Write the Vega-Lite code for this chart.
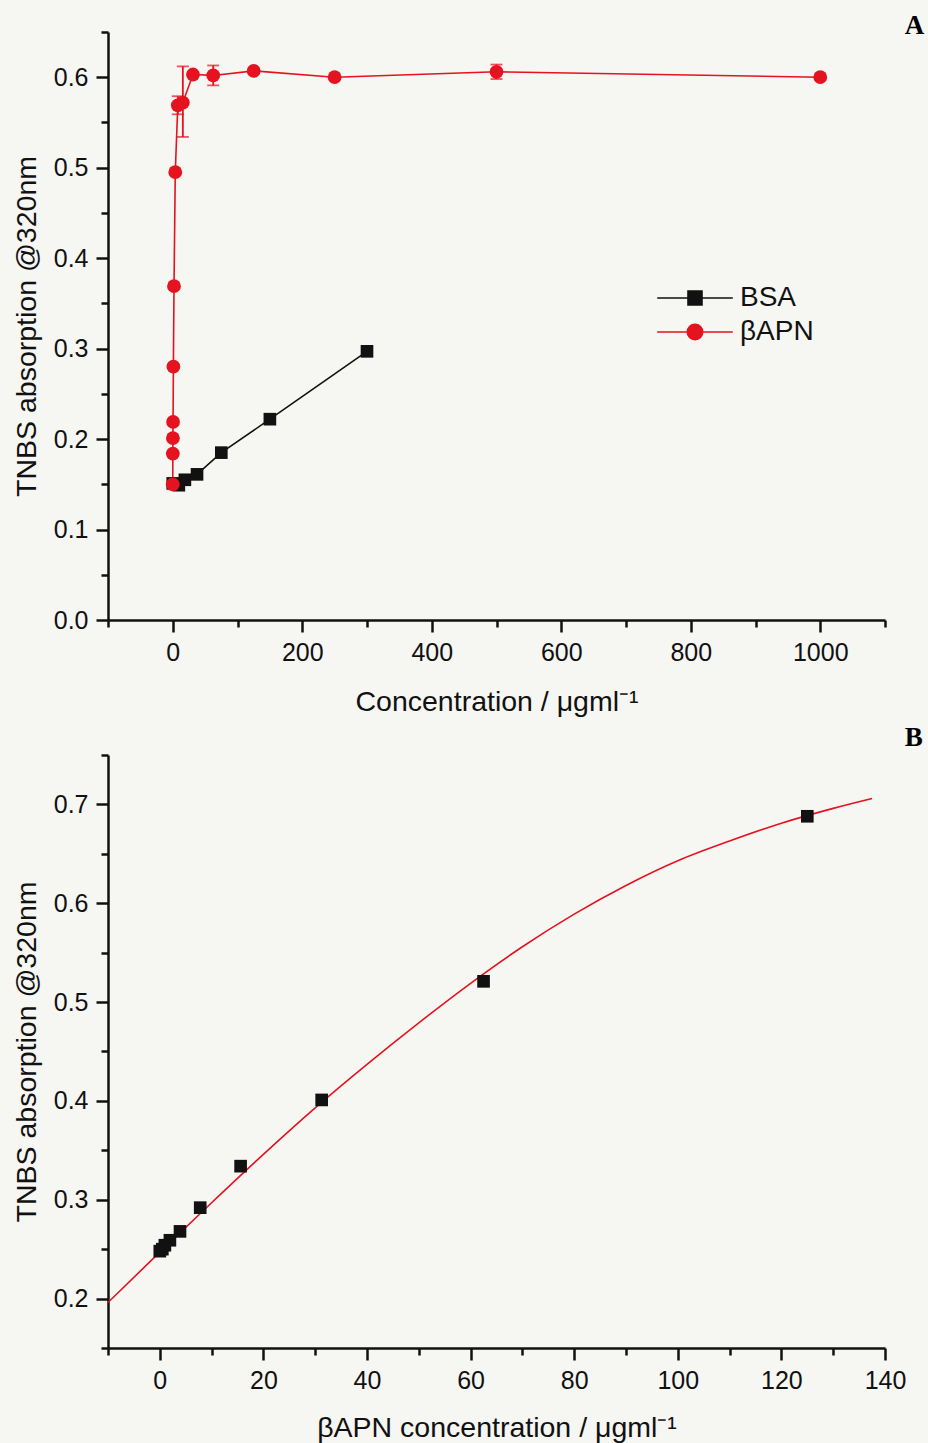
{
  "$schema": "https://vega.github.io/schema/vega-lite/v6.json",
  "background": "#f6f6f3",
  "padding": {"left": 12, "top": 12, "right": 4, "bottom": 8},
  "bounds": "flush",
  "spacing": 135,
  "resolve": {"legend": {"color": "independent", "shape": "independent", "stroke": "independent"}},
  "config": {
    "font": "Liberation Sans",
    "view": {"stroke": null},
    "axis": {
      "domainColor": "#111", "domainWidth": 2.5, "tickColor": "#111", "tickWidth": 2.5,
      "labelColor": "#111", "titleColor": "#111", "labelFont": "Liberation Sans", "titleFont": "Liberation Sans",
      "labelFontSize": 25, "titleFontSize": 28.5, "titleFontWeight": "normal", "grid": false,
      "labelFlush": false, "labelOverlap": false
    },
    "legend": {
      "title": null, "orient": "none", "legendX": 573, "legendY": 252,
      "padding": 0, "rowPadding": 6, "labelFontSize": 28, "labelFont": "Liberation Sans", "labelColor": "#111",
      "labelOffset": 31, "symbolSize": 196, "symbolStrokeWidth": 1.6
    }
  },
  "datasets": {
    "panelA": [
      {"conc": 0, "abs": 0.151, "series": "BSA"},
      {"conc": 9.375, "abs": 0.149, "series": "BSA"},
      {"conc": 18.75, "abs": 0.155, "series": "BSA"},
      {"conc": 37.5, "abs": 0.161, "series": "BSA"},
      {"conc": 75, "abs": 0.185, "series": "BSA"},
      {"conc": 150, "abs": 0.222, "series": "BSA"},
      {"conc": 300, "abs": 0.297, "series": "BSA"},
      {"conc": 0, "abs": 0.150, "series": "βAPN"},
      {"conc": 0.12, "abs": 0.184, "series": "βAPN"},
      {"conc": 0.24, "abs": 0.201, "series": "βAPN"},
      {"conc": 0.49, "abs": 0.219, "series": "βAPN"},
      {"conc": 0.98, "abs": 0.280, "series": "βAPN"},
      {"conc": 1.95, "abs": 0.369, "series": "βAPN"},
      {"conc": 3.9, "abs": 0.495, "series": "βAPN"},
      {"conc": 7.8, "abs": 0.569, "series": "βAPN"},
      {"conc": 15.6, "abs": 0.572, "series": "βAPN"},
      {"conc": 31.25, "abs": 0.603, "series": "βAPN"},
      {"conc": 62.5, "abs": 0.602, "series": "βAPN"},
      {"conc": 125, "abs": 0.607, "series": "βAPN"},
      {"conc": 250, "abs": 0.600, "series": "βAPN"},
      {"conc": 500, "abs": 0.606, "series": "βAPN"},
      {"conc": 1000, "abs": 0.600, "series": "βAPN"}
    ],
    "errA": [
      {"conc": 7.8, "lo": 0.559, "hi": 0.579},
      {"conc": 15.6, "lo": 0.534, "hi": 0.612},
      {"conc": 62.5, "lo": 0.591, "hi": 0.613},
      {"conc": 500, "lo": 0.598, "hi": 0.614}
    ],
    "fitB": [
      {"conc": -10, "abs": 0.196},
      {"conc": 0, "abs": 0.247},
      {"conc": 10, "abs": 0.297},
      {"conc": 20, "abs": 0.346},
      {"conc": 30, "abs": 0.393},
      {"conc": 40, "abs": 0.437},
      {"conc": 50, "abs": 0.479},
      {"conc": 60, "abs": 0.519},
      {"conc": 70, "abs": 0.556},
      {"conc": 80, "abs": 0.589},
      {"conc": 90, "abs": 0.618},
      {"conc": 100, "abs": 0.643},
      {"conc": 110, "abs": 0.663},
      {"conc": 120, "abs": 0.681},
      {"conc": 130, "abs": 0.696},
      {"conc": 137.5, "abs": 0.706}
    ],
    "ptsB": [
      {"conc": 0, "abs": 0.248},
      {"conc": 0.49, "abs": 0.250},
      {"conc": 0.98, "abs": 0.254},
      {"conc": 1.95, "abs": 0.259},
      {"conc": 3.9, "abs": 0.268},
      {"conc": 7.8, "abs": 0.292},
      {"conc": 15.6, "abs": 0.334},
      {"conc": 31.25, "abs": 0.401},
      {"conc": 62.5, "abs": 0.521},
      {"conc": 125, "abs": 0.688}
    ]
  },
  "vconcat": [
    {
      "width": 777,
      "height": 588,
      "title": {"text": "A", "anchor": "end", "font": "Liberation Serif", "fontSize": 27, "fontWeight": "bold", "color": "#000", "dx": 38, "dy": 20, "offset": 0},
      "encoding": {
        "x": {
          "field": "conc", "type": "quantitative",
          "scale": {"domain": [-100, 1100], "nice": false, "zero": false},
          "axis": {
            "title": "Concentration / μgml⁻¹",
            "values": [-100, 0, 100, 200, 300, 400, 500, 600, 700, 800, 900, 1000, 1100],
            "labelExpr": "datum.value % 200 === 0 ? datum.label : ''",
            "format": "d",
            "tickSize": {"condition": {"test": "datum.value % 200 === 0", "value": 12}, "value": 7},
            "labelPadding": 8, "titlePadding": 22
          }
        },
        "y": {
          "field": "abs", "type": "quantitative",
          "scale": {"domain": [0, 0.65], "nice": false, "zero": false},
          "axis": {
            "title": "TNBS absorption @320nm",
            "values": [0, 0.05, 0.1, 0.15, 0.2, 0.25, 0.3, 0.35, 0.4, 0.45, 0.5, 0.55, 0.6, 0.65],
            "labelExpr": "round(datum.value * 100) % 10 === 0 ? datum.label : ''",
            "format": ".1f",
            "tickSize": {"condition": {"test": "round(datum.value * 100) % 10 === 0", "value": 12}, "value": 7},
            "labelPadding": 8, "titlePadding": 12
          }
        }
      },
      "layer": [
        {
          "data": {"name": "panelA"},
          "transform": [{"filter": "datum.series === 'BSA'"}],
          "mark": {"type": "line", "strokeWidth": 1.6, "color": "#111111"}
        },
        {
          "data": {"name": "panelA"},
          "transform": [{"filter": "datum.series !== 'BSA'"}],
          "mark": {"type": "line", "strokeWidth": 1.6, "color": "#e4131f"}
        },
        {
          "data": {"name": "errA"},
          "mark": {"type": "errorbar", "ticks": {"size": 12, "thickness": 1.8}, "color": "#e4131f", "thickness": 1.8},
          "encoding": {
            "y": {"field": "lo", "type": "quantitative"},
            "y2": {"field": "hi"}
          }
        },
        {
          "data": {"name": "panelA"},
          "transform": [{"filter": "datum.series === 'BSA'"}],
          "mark": {"type": "square", "filled": true, "size": 160, "color": "#111111", "opacity": 1}
        },
        {
          "data": {"name": "panelA"},
          "transform": [{"filter": "datum.series !== 'BSA'"}],
          "mark": {"type": "circle", "size": 190, "color": "#e4131f", "opacity": 1}
        },
        {
          "data": {"name": "panelA"},
          "transform": [{"filter": "false"}],
          "mark": {"type": "point", "filled": true, "opacity": 1, "strokeWidth": 1.6},
          "encoding": {
            "color": {"field": "series", "type": "nominal", "scale": {"domain": ["BSA", "βAPN"], "range": ["#111111", "#e4131f"]}},
            "stroke": {"field": "series", "type": "nominal", "scale": {"domain": ["BSA", "βAPN"], "range": ["#111111", "#e4131f"]}},
            "shape": {"field": "series", "type": "nominal", "scale": {"domain": ["BSA", "βAPN"], "range": ["M-5.4,0H-1M1,0H5.4M-1,-1H1V1H-1Z", "M-5.4,0H-1.1M1.1,0H5.4M-1.1,0A1.1,1.1 0 1,0 1.1,0A1.1,1.1 0 1,0 -1.1,0Z"]}}
          }
        }
      ]
    },
    {
      "width": 777,
      "height": 593,
      "title": {"text": "B", "anchor": "end", "font": "Liberation Serif", "fontSize": 27, "fontWeight": "bold", "color": "#000", "dx": 17, "dy": 18, "offset": 9},
      "encoding": {
        "x": {
          "field": "conc", "type": "quantitative",
          "scale": {"domain": [-10, 140], "nice": false, "zero": false},
          "axis": {
            "title": "βAPN concentration / μgml⁻¹",
            "values": [-10, 0, 10, 20, 30, 40, 50, 60, 70, 80, 90, 100, 110, 120, 130, 140],
            "labelExpr": "datum.value % 20 === 0 ? datum.label : ''",
            "format": "d",
            "tickSize": {"condition": {"test": "datum.value % 20 === 0", "value": 12}, "value": 7},
            "labelPadding": 8, "titlePadding": 20
          }
        },
        "y": {
          "field": "abs", "type": "quantitative",
          "scale": {"domain": [0.15, 0.75], "nice": false, "zero": false},
          "axis": {
            "title": "TNBS absorption @320nm",
            "values": [0.15, 0.2, 0.25, 0.3, 0.35, 0.4, 0.45, 0.5, 0.55, 0.6, 0.65, 0.7, 0.75],
            "labelExpr": "round(datum.value * 100) % 10 === 0 ? datum.label : ''",
            "format": ".1f",
            "tickSize": {"condition": {"test": "round(datum.value * 100) % 10 === 0", "value": 12}, "value": 7},
            "labelPadding": 8, "titlePadding": 12
          }
        }
      },
      "layer": [
        {
          "data": {"name": "fitB"},
          "mark": {"type": "line", "color": "#e4131f", "strokeWidth": 1.6, "interpolate": "monotone"}
        },
        {
          "data": {"name": "ptsB"},
          "mark": {"type": "square", "filled": true, "size": 160, "color": "#111111", "opacity": 1}
        }
      ]
    }
  ]
}
